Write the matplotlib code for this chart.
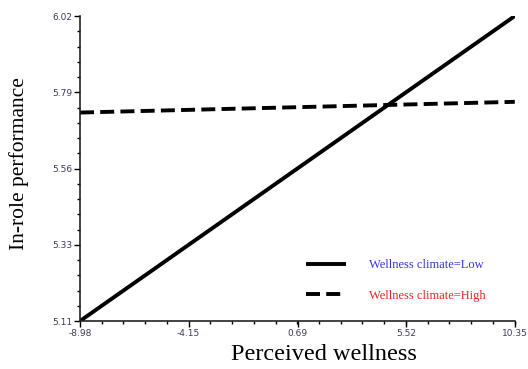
import matplotlib
matplotlib.use("Agg")
import matplotlib.pyplot as plt
from matplotlib.ticker import AutoMinorLocator

# simple slopes: perceived wellness at the two ends of the range
wellness = [-8.98, 10.35]
perf_low = [5.11, 6.02]
perf_high = [5.732, 5.764]

x_ticks = [-8.98, -4.15, 0.69, 5.52, 10.35]
y_ticks = [5.11, 5.33, 5.56, 5.79, 6.02]
y_tick_pos = [5.11, 5.3375, 5.565, 5.7925, 6.02]

fig = plt.figure(figsize=(5.28, 3.69), dpi=100)
ax = fig.add_axes([0.1515, 0.130, 0.8235, 0.8266])

ax.plot(wellness, perf_low, color="black", lw=2.8, solid_capstyle="butt",
        label="Wellness climate=Low")
ax.plot(wellness, perf_high, color="black", lw=2.8, dashes=(3.6, 1.6),
        label="Wellness climate=High")

ax.set_xlim(wellness[0], wellness[1])
ax.set_ylim(y_tick_pos[0], y_tick_pos[-1])
ax.set_xticks(x_ticks)
ax.set_xticklabels([f"{v:.2f}" for v in x_ticks])
ax.set_yticks(y_tick_pos)
ax.set_yticklabels([f"{v:.2f}" for v in y_ticks])
ax.xaxis.set_minor_locator(AutoMinorLocator(5))
ax.yaxis.set_minor_locator(AutoMinorLocator(5))

for s in ("top", "right"):
    ax.spines[s].set_visible(False)
for s in ("left", "bottom"):
    ax.spines[s].set_linewidth(1.2)
    ax.spines[s].set_color("#222222")

ax.tick_params(which="major", direction="out", length=4, width=1,
               labelsize=6.5, labelcolor="#3a3a5a", pad=1.5)
ax.tick_params(which="minor", direction="out", length=2.5, width=1)

serif = ["Liberation Serif", "DejaVu Serif"]
ax.set_xlabel("Perceived wellness", family=serif, fontsize=17.5)
ax.set_ylabel("In-role performance", family=serif, fontsize=15.5)
ax.xaxis.set_label_coords(0.561, -0.075)
ax.yaxis.set_label_coords(-0.117, 0.515)

leg = ax.legend(loc="lower right", bbox_to_anchor=(0.958, 0.026), frameon=False,
                handlelength=3.2, handletextpad=1.8, labelspacing=1.5,
                prop={"family": serif, "size": 9},
                labelcolor=["#3333dd", "#ee2222"])

fig.savefig("out.png", dpi=100)
